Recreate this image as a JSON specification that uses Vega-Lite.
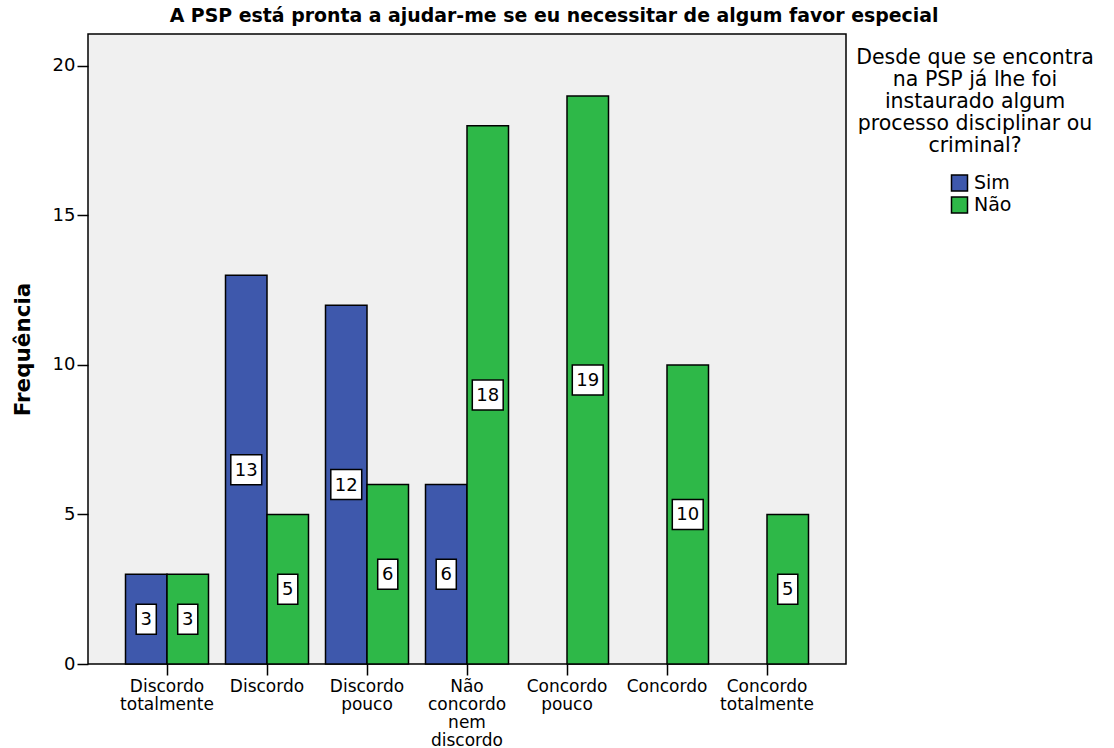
{
  "$schema": "https://vega.github.io/schema/vega-lite/v6.json",
  "width": 758,
  "height": 630,
  "autosize": "none",
  "padding": {"left": 88, "top": 34, "right": 268, "bottom": 84},
  "background": "white",
  "config": {
    "font": "DejaVu Sans",
    "view": {"stroke": "black", "strokeWidth": 1.5, "fill": "#F0F0F0"},
    "axis": {
      "labelFont": "DejaVu Sans",
      "labelColor": "black",
      "domainColor": "black",
      "domainWidth": 1.5,
      "tickColor": "black",
      "tickWidth": 1.5,
      "tickSize": 11,
      "grid": false
    }
  },
  "title": {
    "text": "A PSP está pronta a ajudar-me se eu necessitar de algum favor especial",
    "font": "DejaVu Sans",
    "fontSize": 18.9,
    "fontWeight": "bold",
    "color": "black",
    "anchor": "middle",
    "frame": "bounds",
    "offset": 8,
    "dx": 1
  },
  "data": {
    "values": [
      {"cat": "Discordo totalmente", "grp": "Sim", "n": 3},
      {"cat": "Discordo totalmente", "grp": "Não", "n": 3},
      {"cat": "Discordo", "grp": "Sim", "n": 13},
      {"cat": "Discordo", "grp": "Não", "n": 5},
      {"cat": "Discordo pouco", "grp": "Sim", "n": 12},
      {"cat": "Discordo pouco", "grp": "Não", "n": 6},
      {"cat": "Não concordo nem discordo", "grp": "Sim", "n": 6},
      {"cat": "Não concordo nem discordo", "grp": "Não", "n": 18},
      {"cat": "Concordo pouco", "grp": "Não", "n": 19},
      {"cat": "Concordo", "grp": "Não", "n": 10},
      {"cat": "Concordo totalmente", "grp": "Não", "n": 5}
    ]
  },
  "encoding": {
    "x": {
      "field": "cat",
      "type": "nominal",
      "sort": ["Discordo totalmente", "Discordo", "Discordo pouco", "Não concordo nem discordo", "Concordo pouco", "Concordo", "Concordo totalmente"],
      "scale": {"paddingInner": 0.17, "paddingOuter": 0.375},
      "axis": {
        "title": null,
        "labelAngle": 0,
        "labelExpr": "split(datum.label, ' ')",
        "labelFontSize": 17,
        "labelLineHeight": 18,
        "labelPadding": 3,
        "labelLimit": 200,
        "domain": false
      }
    },
    "xOffset": {
      "field": "grp",
      "type": "nominal",
      "scale": {"domain": ["Sim", "Não"], "paddingInner": 0, "paddingOuter": 0}
    }
  },
  "layer": [
    {
      "mark": {"type": "bar", "stroke": "black", "strokeWidth": 1.5, "opacity": 1},
      "encoding": {
        "y": {
          "field": "n",
          "type": "quantitative",
          "scale": {"domain": [0, 21.07], "nice": false, "zero": true},
          "axis": {
            "values": [0, 5, 10, 15, 20],
            "title": "Frequência",
            "titleFont": "DejaVu Sans",
            "titleFontSize": 21.5,
            "titleFontWeight": "bold",
            "titleColor": "black",
            "titlePadding": 18,
            "labelFontSize": 18,
            "labelPadding": 2,
            "domain": false
          }
        },
        "color": {
          "field": "grp",
          "type": "nominal",
          "scale": {"domain": ["Sim", "Não"], "range": ["#3E58AC", "#2EB848"]},
          "legend": {
            "orient": "none",
            "legendX": 768,
            "legendY": 14,
            "title": ["Desde que se encontra", "na PSP já lhe foi", "instaurado algum", "processo disciplinar ou", "criminal?"],
            "titleFont": "DejaVu Sans",
            "titleFontSize": 20.5,
            "titleFontWeight": "normal",
            "titleColor": "black",
            "titleLineHeight": 22,
            "titleAlign": "center",
            "titleAnchor": "middle",
            "titleLimit": 400,
            "titlePadding": 17,
            "symbolType": "square",
            "symbolSize": 256,
            "symbolStrokeColor": "black",
            "symbolStrokeWidth": 1.5,
            "symbolOpacity": 1,
            "symbolOffset": 12,
            "labelOffset": 5,
            "labelFont": "DejaVu Sans",
            "labelFontSize": 19,
            "labelColor": "black",
            "rowPadding": -1
          }
        }
      }
    },
    {
      "mark": {"type": "point", "filled": true, "fill": "white", "stroke": "black", "strokeWidth": 1.5, "opacity": 1, "size": 900},
      "encoding": {
        "y": {
          "field": "n",
          "type": "quantitative",
          "scale": {"domain": [0, 42.14], "nice": false},
          "axis": null
        },
        "shape": {
          "condition": {"test": "datum.n >= 10", "value": "M-1.03,-1L1.03,-1L1.03,1L-1.03,1Z"},
          "value": "M-0.67,-1L0.67,-1L0.67,1L-0.67,1Z"
        }
      }
    },
    {
      "mark": {"type": "text", "font": "DejaVu Sans", "fontSize": 18, "color": "black", "baseline": "middle", "align": "center", "dy": 1},
      "encoding": {
        "y": {
          "field": "n",
          "type": "quantitative",
          "scale": {"domain": [0, 42.14], "nice": false},
          "axis": null
        },
        "text": {"field": "n", "type": "quantitative"}
      }
    }
  ],
  "resolve": {"scale": {"y": "independent"}}
}
